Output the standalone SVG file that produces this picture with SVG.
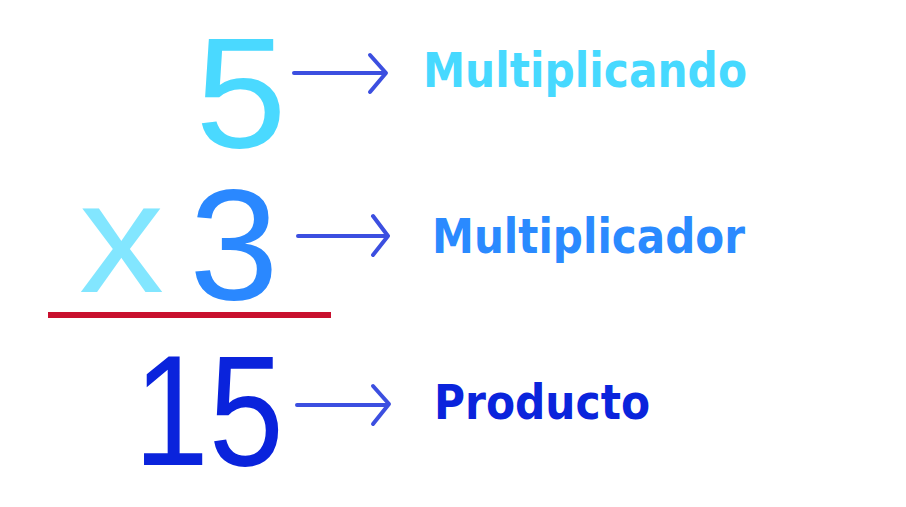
<svg xmlns="http://www.w3.org/2000/svg" width="906" height="507" viewBox="0 0 906 507">
<style>
.num{font-family:"Liberation Sans","Noto Sans",sans-serif;font-size:157px;font-weight:400}
.lbl{font-family:"DejaVu Sans","Noto Sans",sans-serif;font-size:48px;font-weight:700}
.arr{fill:none;stroke:#3C4FE0;stroke-width:4;stroke-linecap:round;stroke-linejoin:round}
</style>
<rect width="906" height="507" fill="#ffffff"/>
<g id="multiplicando-num"><text class="num" x="195.3" y="147" fill="#4AD9FF" textLength="91.4" lengthAdjust="spacingAndGlyphs">5</text></g>
<g id="times"><text class="num" x="79" y="292" fill="#82E6FF" textLength="85" lengthAdjust="spacingAndGlyphs">x</text></g>
<g id="multiplicador-num"><text class="num" x="189.3" y="299" fill="#2A88FF" textLength="89.4" lengthAdjust="spacingAndGlyphs">3</text></g>
<g id="rule"><rect x="48" y="312" width="283" height="6" fill="#C8102E"/></g>
<g id="producto-num"><text class="num" x="133.7" y="465" fill="#0A23DC" textLength="150" lengthAdjust="spacingAndGlyphs">15</text></g>
<g id="multiplicando-label"><text class="lbl" x="423" y="87" fill="#47D9FF" textLength="324" lengthAdjust="spacingAndGlyphs">Multiplicando</text></g>
<g id="multiplicador-label"><text class="lbl" x="432" y="253" fill="#2A8AFF" textLength="313" lengthAdjust="spacingAndGlyphs">Multiplicador</text></g>
<g id="producto-label"><text class="lbl" x="434" y="419" fill="#0A24DC" textLength="216" lengthAdjust="spacingAndGlyphs">Producto</text></g>
<g id="connectors">
<path class="arr" d="M294 73 H385 M370 55 L386 73 L370 92"/>
<path class="arr" d="M298 236 H387 M373 216 L388 236 L373 255"/>
<path class="arr" d="M297 405 H388 M373 386 L389 404 L373 424"/>
</g>
</svg>
